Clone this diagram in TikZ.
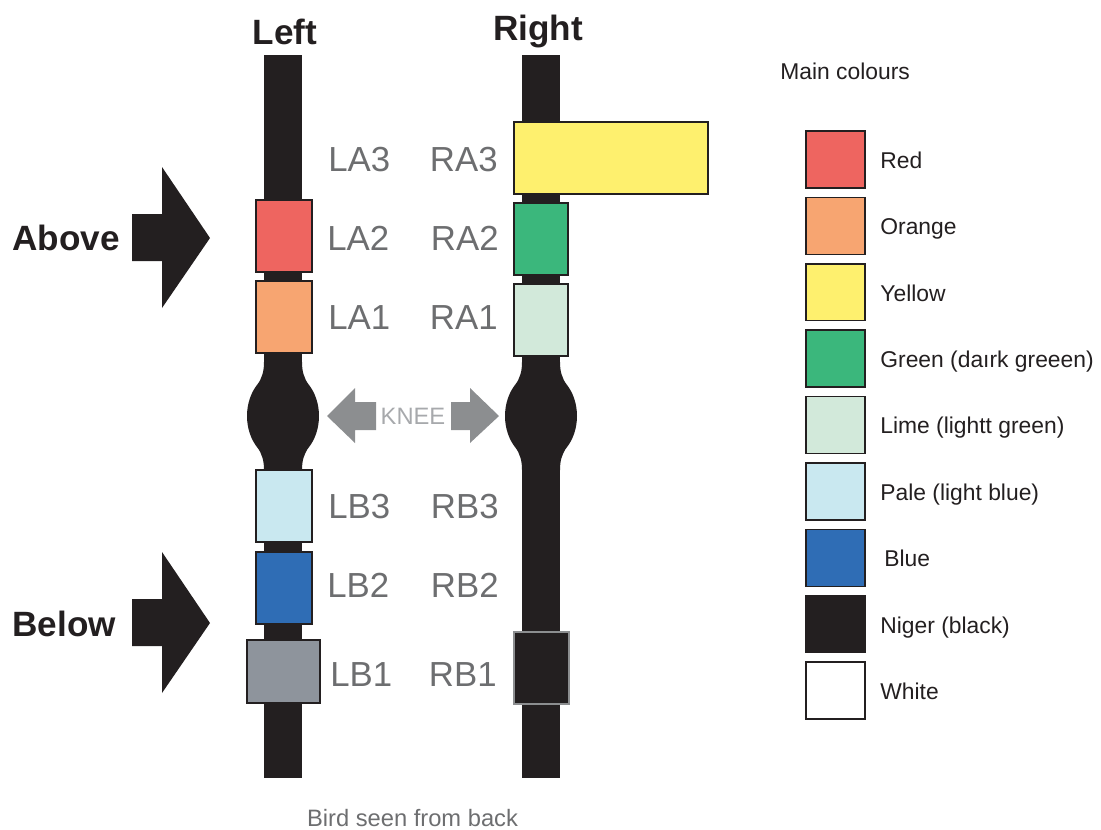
\documentclass[tikz,border=0pt]{standalone}
\usepackage{fontspec}
\setmainfont{Liberation Sans}
\usepackage{tikz}
\usetikzlibrary{positioning}

\definecolor{inkblack}{HTML}{231F20}
\definecolor{labgray}{HTML}{6D6E70}
\definecolor{kneegray}{HTML}{A7A9AC}
\definecolor{arrgray}{HTML}{8C8E90}
\definecolor{ringred}{HTML}{EE6560}
\definecolor{ringorange}{HTML}{F7A571}
\definecolor{ringyellow}{HTML}{FEF06E}
\definecolor{ringgreen}{HTML}{3BB77C}
\definecolor{ringlime}{HTML}{D2E9DA}
\definecolor{ringpale}{HTML}{C9E8F0}
\definecolor{ringblue}{HTML}{2F6DB5}
\definecolor{ringmetal}{HTML}{8E949C}

\begin{document}
\begin{tikzpicture}[
  x=0.02cm,y=-0.02cm,
  node distance=0.16cm and 0.17cm,
  band/.style={draw=inkblack,line width=0.8pt,minimum width=1.12cm,minimum height=1.44cm,inner sep=0pt},
  swatch/.style={draw=inkblack,line width=0.8pt,minimum width=1.18cm,minimum height=1.14cm,inner sep=0pt},
  code/.style={text=labgray,font=\fontsize{19.8}{24}\selectfont,inner sep=0pt},
  key/.style={text=inkblack,font=\fontsize{13}{16}\selectfont,text height=0.72em,text depth=0pt,yshift=-0.05cm},
  title/.style={text=inkblack,font=\bfseries\fontsize{20}{24}\selectfont,inner sep=0pt}
]
\useasboundingbox (0,0) rectangle (1101,829);

% legs
\fill[inkblack] (264,55) rectangle (302,778);
\fill[inkblack] (522,55) rectangle (560,778);
\fill[inkblack] (283,416) ellipse [x radius=0.72cm,y radius=0.9cm];
\fill[inkblack] (541,416) ellipse [x radius=0.72cm,y radius=0.9cm];
\foreach \c in {283,541}{
  \fill[inkblack] (\c-19,362) .. controls (\c-19,372) and (\c-21,377) .. (\c-25,384)
    -- (\c+25,384) .. controls (\c+21,377) and (\c+19,372) .. (\c+19,362) -- cycle;
  \fill[inkblack] (\c-19,470) .. controls (\c-19,460) and (\c-21,455) .. (\c-25,448)
    -- (\c+25,448) .. controls (\c+21,455) and (\c+19,460) .. (\c+19,470) -- cycle;
}

\node[title] (left) at (285,32) {Left};
\node[title] (right) at (538,31) {Right};

% rings
\node[band,fill=ringred] (LA2) at (284,236) {};
\node[band,fill=ringorange] (LA1) at (284,317) {};
\node[band,fill=ringpale] (LB3) at (284,506) {};
\node[band,fill=ringblue] (LB2) at (284,588) {};
\node[band,fill=ringmetal,minimum width=1.46cm,minimum height=1.26cm] (LB1) at (283.5,671.5) {};
\node[band,fill=ringyellow,minimum width=3.88cm] (RA3) at (611,158) {};
\node[band,fill=ringgreen,minimum width=1.08cm] (RA2) at (541,239) {};
\node[band,fill=ringlime,minimum width=1.08cm] (RA1) at (541,320) {};
\node[band,fill=inkblack,draw=arrgray,line width=1.2pt,minimum width=1.1cm] (RB1) at (541.5,668) {};

% positions
\node[code,anchor=west] (tLA3) at (328,160) {LA3};
\node[code,anchor=west] (tLA2) at (327,238) {LA2};
\node[code,anchor=west] (tLA1) at (328,318) {LA1};
\node[code,anchor=west] (tLB3) at (328,507) {LB3};
\node[code,anchor=west] (tLB2) at (327,585) {LB2};
\node[code,anchor=west] (tLB1) at (330,675) {LB1};
\node[code,anchor=east] (tRA3) at (498,160) {RA3};
\node[code,anchor=east] (tRA2) at (499,238) {RA2};
\node[code,anchor=east] (tRA1) at (498,318) {RA1};
\node[code,anchor=east] (tRB3) at (499,507) {RB3};
\node[code,anchor=east] (tRB2) at (499,585) {RB2};
\node[code,anchor=east] (tRB1) at (497,675) {RB1};

% above / below
\fill[inkblack] (132,214) -- (162,214) -- (162,167) -- (210,238) -- (162,308) -- (162,261) -- (132,261) -- cycle;
\fill[inkblack] (132,599) -- (162,599) -- (162,552) -- (210,623) -- (162,693) -- (162,646) -- (132,646) -- cycle;
\node[title,anchor=west] (above) at (12,238) {Above};
\node[title,anchor=west] (below) at (12,624) {Below};

% knee
\fill[arrgray] (327,416) -- (355,388) -- (355,402) -- (376,402) -- (376,430) -- (355,430) -- (355,443) -- cycle;
\fill[arrgray] (499,416) -- (470,388) -- (470,402) -- (451,402) -- (451,430) -- (470,430) -- (470,443) -- cycle;
\node[text=kneegray,font=\fontsize{13.5}{16}\selectfont,inner sep=0pt] (knee) at (413,416) {KNEE};

\node[text=labgray,font=\fontsize{13.5}{16}\selectfont] (caption) at (412.5,818) {Bird seen from back};

% legend
\node[key,anchor=west,inner sep=0pt] (main) at (780,71) {Main colours};
\node[swatch,fill=ringred] (sRed) at (835.5,159.5) {};
\node[swatch,fill=ringorange,below=of sRed] (sOrange) {};
\node[swatch,fill=ringyellow,below=of sOrange] (sYellow) {};
\node[swatch,fill=ringgreen,below=of sYellow] (sGreen) {};
\node[swatch,fill=ringlime,below=of sGreen] (sLime) {};
\node[swatch,fill=ringpale,below=of sLime] (sPale) {};
\node[swatch,fill=ringblue,below=of sPale] (sBlue) {};
\node[swatch,fill=inkblack,below=of sBlue] (sBlack) {};
\node[swatch,fill=white,below=of sBlack] (sWhite) {};

\node[key,right=of sRed] (kRed) {Red};
\node[key,right=of sOrange] (kOrange) {Orange};
\node[key,right=of sYellow] (kYellow) {Yellow};
\node[key,right=of sGreen] (kGreen) {Green (daırk greeen)};
\node[key,right=of sLime] (kLime) {Lime (lightt green)};
\node[key,right=of sPale] (kPale) {Pale (light blue)};
\node[key,right=of sBlue,xshift=0.08cm] (kBlue) {Blue};
\node[key,right=of sBlack] (kBlack) {Niger (black)};
\node[key,right=of sWhite] (kWhite) {White};
\end{tikzpicture}
\end{document}
